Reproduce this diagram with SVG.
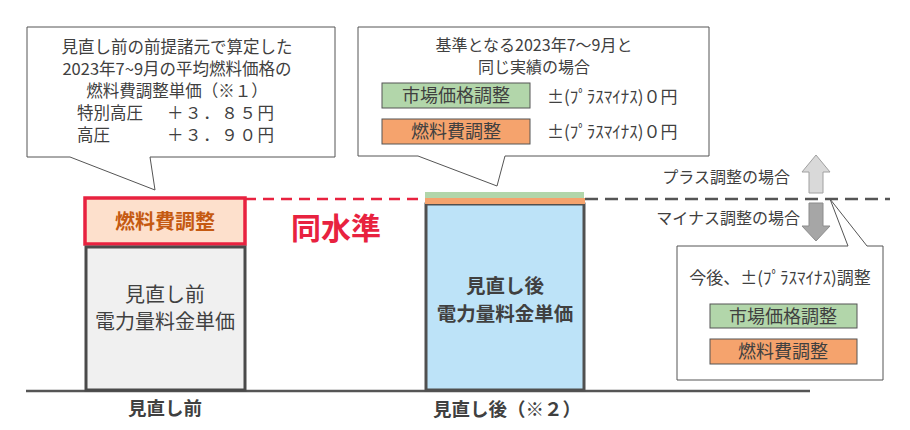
<svg xmlns="http://www.w3.org/2000/svg" width="910" height="430" viewBox="0 0 910 430">
<style>
text{font-family:"Noto Sans CJK JP","Noto Sans",sans-serif;fill:#404040}
.c{text-anchor:middle}
.b{font-weight:bold}
.bub{fill:#fff;stroke:#555;stroke-width:1}
.grn{fill:#b2d6aa;stroke:#555;stroke-width:1}
.org{fill:#f5a36d;stroke:#555;stroke-width:1}
</style>
<rect width="910" height="430" fill="#fff"/>
<g id="connectors">
<line x1="245" y1="199" x2="425" y2="199" stroke="#e8223f" stroke-width="2.5" stroke-dasharray="11,7"/>
<line x1="585" y1="199" x2="890" y2="199" stroke="#555" stroke-width="2.5" stroke-dasharray="13,7"/>
<line x1="26" y1="391" x2="810" y2="391" stroke="#555" stroke-width="2.5"/>
</g>
<g id="bubble-left">
<path class="bub" d="M27,27 H335 V157 H150 L155,190 L70,157 H27 Z"/>
<text class="c" x="177" y="53" font-size="16.5">見直し前の前提諸元で算定した</text>
<text class="c" x="177" y="75" font-size="16.5">2023年7~9月の平均燃料価格の</text>
<text class="c" x="177" y="97" font-size="16.5">燃料費調整単価（※１）</text>
<text x="77" y="119" font-size="16.5">特別高圧</text>
<text x="167" y="119" font-size="16.5" letter-spacing="1.6">＋３．８５円</text>
<text x="77" y="141" font-size="16.5">高圧</text>
<text x="167" y="141" font-size="16.5" letter-spacing="1.6">＋３．９０円</text>
</g>
<g id="bubble-middle">
<path class="bub" d="M358,27 H709 V156 H505 L497,186 L418,156 H358 Z"/>
<text class="c" x="534" y="51" font-size="16">基準となる2023年7～9月と</text>
<text class="c" x="534" y="73" font-size="16">同じ実績の場合</text>
<rect class="grn" x="382" y="83" width="148" height="25"/>
<text class="c" x="456" y="102" font-size="18">市場価格調整</text>
<rect class="org" x="382" y="119" width="148" height="25"/>
<text class="c" x="456" y="138" font-size="18">燃料費調整</text>
<text x="547" y="103" font-size="17">±(ﾌﾟﾗｽﾏｲﾅｽ)０円</text>
<text x="547" y="138" font-size="17">±(ﾌﾟﾗｽﾏｲﾅｽ)０円</text>
</g>
<g id="before-fuel">
<rect x="85" y="198" width="160" height="46" fill="#fde0cc" stroke="#e8223f" stroke-width="3.5"/>
<text class="c b" x="165" y="229" font-size="20" style="fill:#c55a11">燃料費調整</text>
</g>
<g id="before-unit">
<rect x="86" y="247" width="159" height="143" fill="#f0f0f0" stroke="#4a4a4a" stroke-width="3"/>
<text class="c" x="165" y="302" font-size="20">見直し前</text>
<text class="c" x="165" y="329" font-size="20">電力量料金単価</text>
</g>
<g id="same-level">
<text class="c b" x="336" y="239" font-size="30" style="fill:#e8223f">同水準</text>
</g>
<g id="after-unit">
<rect x="426" y="204" width="158" height="186" fill="#bde3f8" stroke="#505050" stroke-width="3"/>
<rect x="425" y="192" width="159" height="6" fill="#b2d6aa"/>
<rect x="425" y="198" width="160" height="6" fill="#f5a36d"/>
<text class="c b" x="505" y="293" font-size="19.5">見直し後</text>
<text class="c b" x="505" y="321" font-size="19.5">電力量料金単価</text>
</g>
<g id="labels">
<text class="c b" x="165" y="415" font-size="18.5">見直し前</text>
<text class="c b" x="507" y="416" font-size="18.5">見直し後（※２）</text>
</g>
<g id="plus-arrow">
<path d="M816,155 L830,172 H823 V193 H809 V172 H802 Z" fill="#d9d9d9" stroke="#a0a0a0" stroke-width="1"/>
<text x="790" y="183" font-size="16" text-anchor="end">プラス調整の場合</text>
</g>
<g id="minus-arrow">
<path d="M809,203 H823 V226 H830 L816,241 L802,226 H809 Z" fill="#a6a6a6" stroke="#8c8c8c" stroke-width="1"/>
<text x="800" y="224" font-size="16" text-anchor="end">マイナス調整の場合</text>
</g>
<g id="bubble-right">
<path class="bub" d="M677,246 H848 L830,199 L867,246 H883 V380 H677 Z"/>
<text class="c" x="780" y="284" font-size="17">今後、±(ﾌﾟﾗｽﾏｲﾅｽ)調整</text>
<rect class="grn" x="710" y="304" width="147" height="24"/>
<text class="c" x="783" y="323" font-size="18">市場価格調整</text>
<rect class="org" x="710" y="339" width="147" height="25"/>
<text class="c" x="783" y="358" font-size="18">燃料費調整</text>
</g>
</svg>
